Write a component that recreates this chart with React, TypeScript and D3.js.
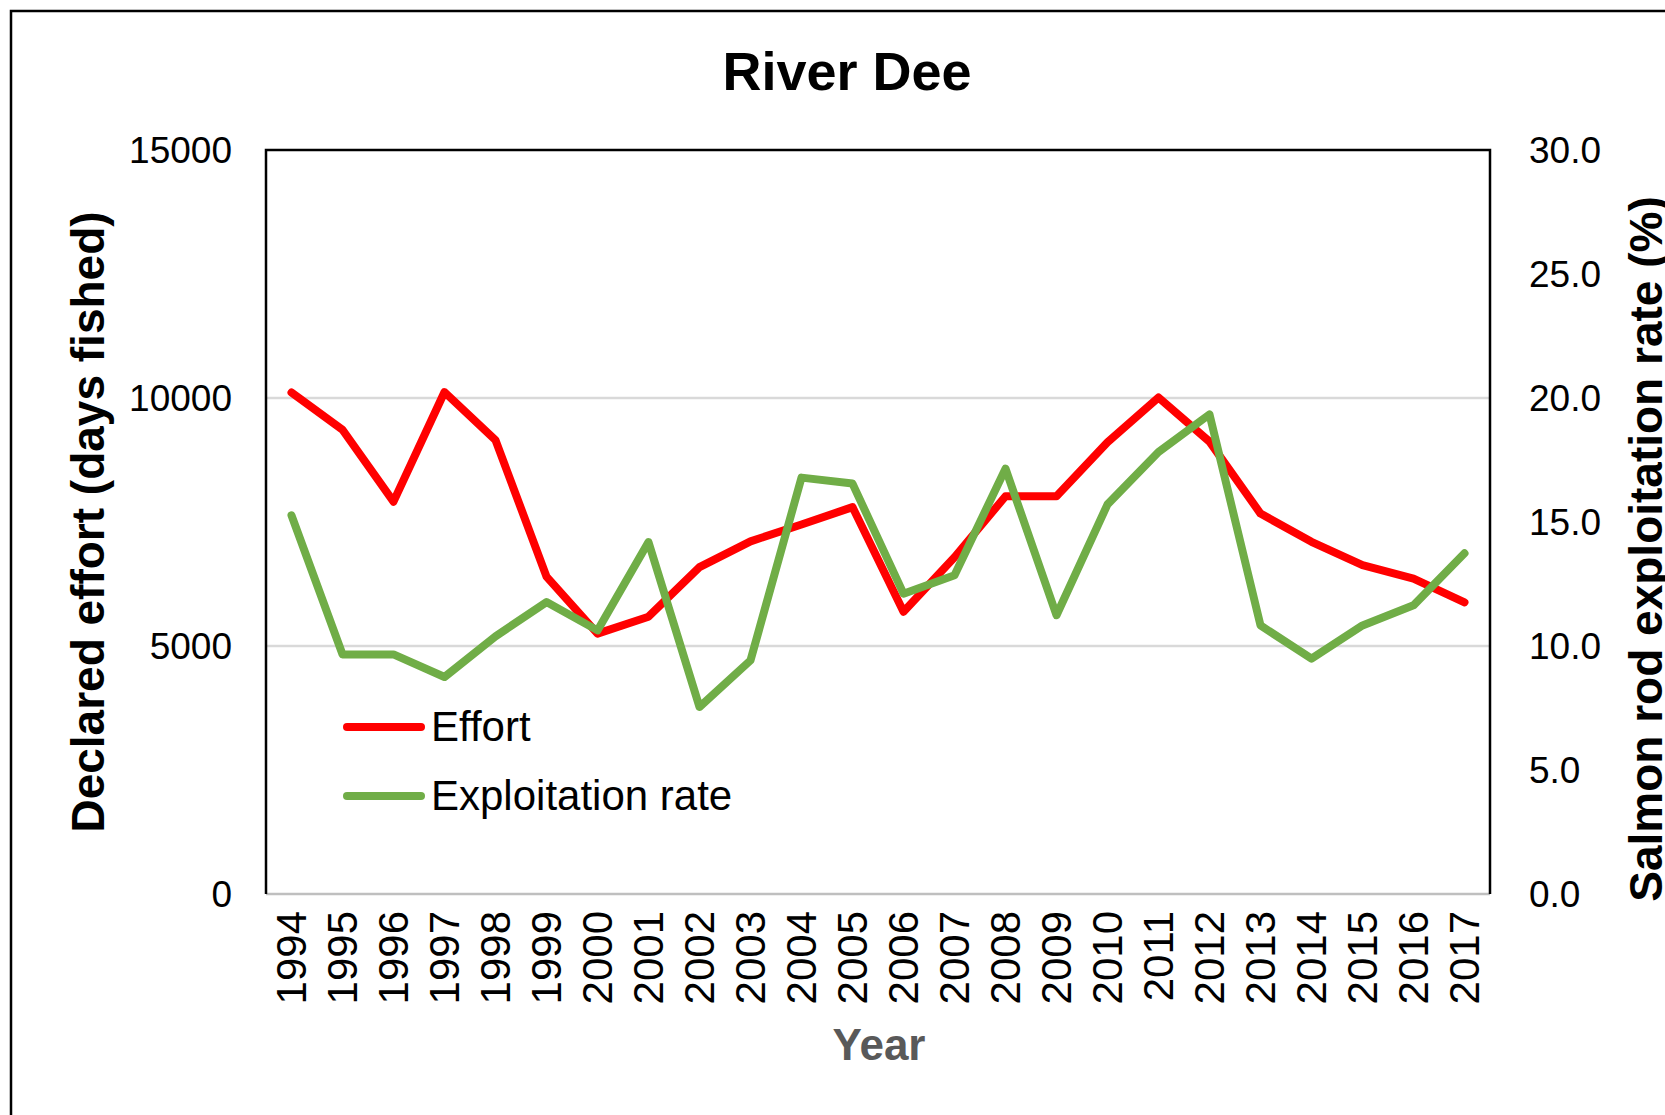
import * as d3 from 'd3';

const years = [
  '1994', '1995', '1996', '1997', '1998', '1999', '2000', '2001', '2002', '2003', '2004', '2005',
  '2006', '2007', '2008', '2009', '2010', '2011', '2012', '2013', '2014', '2015', '2016', '2017',
];

// Declared effort (days fished), left axis
const effort = [
  10110, 9360, 7910, 10120, 9150, 6400, 5250, 5590, 6590, 7110, 7450, 7800,
  5690, 6790, 8020, 8020, 9110, 10010, 9120, 7670, 7100, 6630, 6360, 5880,
];

// Salmon rod exploitation rate (%), right axis
const exploitation = [
  15.27, 9.66, 9.66, 8.75, 10.39, 11.77, 10.63, 14.19, 7.54, 9.42, 16.79, 16.55,
  12.11, 12.85, 17.15, 11.24, 15.71, 17.82, 19.34, 10.83, 9.49, 10.83, 11.64, 13.74,
];

const leftTicks = [0, 5000, 10000, 15000];
const rightTicks = [0, 5, 10, 15, 20, 25, 30];

const W = 1665;
const H = 1115;
const margin = { top: 150, right: 175, bottom: 221, left: 266 };
const font = '"Liberation Sans", Arial, sans-serif';

export default function App() {
  const x = d3.scaleBand<string>()
    .domain(years)
    .range([margin.left, W - margin.right]);
  const yLeft = d3.scaleLinear().domain([0, 15000]).range([H - margin.bottom, margin.top]);
  const yRight = d3.scaleLinear().domain([0, 30]).range([H - margin.bottom, margin.top]);

  const cx = (d: string) => (x(d) ?? 0) + x.bandwidth() / 2;

  const effortLine = d3.line<number>()
    .x((_, i) => cx(years[i]))
    .y(d => yLeft(d));
  const rateLine = d3.line<number>()
    .x((_, i) => cx(years[i]))
    .y(d => yRight(d));

  const x0 = margin.left;
  const x1 = W - margin.right;
  const y0 = H - margin.bottom;
  const y1 = margin.top;

  return (
    <svg
      width={W}
      height={H}
      style={{ position: 'absolute', left: 0, top: 0, background: '#fff' }}
      fontFamily={font}
    >
      {/* outer chart frame */}
      <rect x={11} y={11} width={W + 20} height={H + 20} fill="#fff" stroke="#000" strokeWidth={2.5} />

      <text x={(x0 + x1) / 2 - 31} y={90} textAnchor="middle" fontSize={54} fontWeight="bold">
        River Dee
      </text>

      {/* gridlines */}
      {leftTicks.filter(t => t > 0 && t < 15000).map(t => (
        <line key={t} x1={x0} x2={x1} y1={yLeft(t)} y2={yLeft(t)} stroke="#d9d9d9" strokeWidth={2.5} />
      ))}

      {/* plot border */}
      <line x1={x0} x2={x1} y1={y0} y2={y0} stroke="#bfbfbf" strokeWidth={2.5} />
      <path d={`M${x0},${y0}V${y1}H${x1}V${y0}`} fill="none" stroke="#000" strokeWidth={2.5} />

      {/* left ticks */}
      {leftTicks.map(t => (
        <text key={t} x={x0 - 34} y={yLeft(t)} dy="0.35em" textAnchor="end" fontSize={37}>
          {t}
        </text>
      ))}
      {/* right ticks */}
      {rightTicks.map(t => (
        <text key={t} x={x1 + 39} y={yRight(t)} dy="0.35em" textAnchor="start" fontSize={37}>
          {t.toFixed(1)}
        </text>
      ))}

      {/* x tick labels */}
      {years.map(yr => (
        <text
          key={yr}
          transform={`translate(${cx(yr)},${y0 + 17}) rotate(-90)`}
          dy="0.35em"
          textAnchor="end"
          fontSize={42}
        >
          {yr}
        </text>
      ))}

      <text x={879} y={1060} textAnchor="middle" fontSize={44} fontWeight="bold" fill="#595959">
        Year
      </text>
      <text
        transform={`translate(104,${(y0 + y1) / 2}) rotate(-90)`}
        textAnchor="middle"
        fontSize={46}
        fontWeight="bold"
      >
        Declared effort (days fished)
      </text>
      <text
        transform={`translate(1662,549) rotate(-90)`}
        textAnchor="middle"
        fontSize={46}
        fontWeight="bold"
      >
        Salmon rod exploitation rate (%)
      </text>

      {/* series */}
      <path d={effortLine(effort) ?? ''} fill="none" stroke="#ff0000" strokeWidth={8} strokeLinejoin="round" strokeLinecap="round" />
      <path d={rateLine(exploitation) ?? ''} fill="none" stroke="#70ad47" strokeWidth={8} strokeLinejoin="round" strokeLinecap="round" />

      {/* legend */}
      <line x1={347} x2={421} y1={727} y2={727} stroke="#ff0000" strokeWidth={8} strokeLinecap="round" />
      <text x={431} y={741} fontSize={42}>Effort</text>
      <line x1={347} x2={421} y1={796} y2={796} stroke="#70ad47" strokeWidth={8} strokeLinecap="round" />
      <text x={431} y={810} fontSize={42}>Exploitation rate</text>
    </svg>
  );
}
